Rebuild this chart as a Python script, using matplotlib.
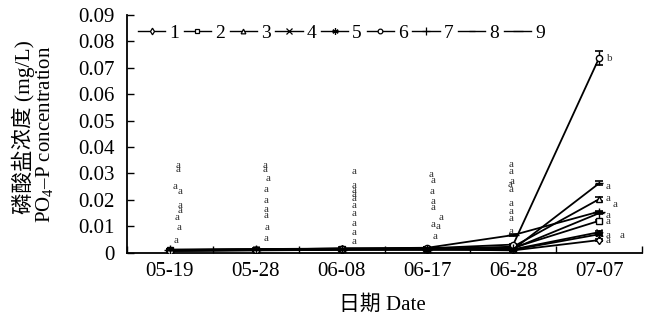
import matplotlib
matplotlib.use("Agg")
import matplotlib.pyplot as plt
from matplotlib.lines import Line2D

plt.rcParams["font.family"] = ["Liberation Serif", "Noto Sans CJK SC"]
plt.rcParams["mathtext.fontset"] = "custom"
plt.rcParams["mathtext.rm"] = "Liberation Serif"
plt.rcParams["mathtext.it"] = "Liberation Serif:italic"

# Sampling dates
dates = ["05-19", "05-28", "06-08", "06-17", "06-28", "07-07"]
series_names = ["1", "2", "3", "4", "5", "6", "7", "8", "9"]

# PO4-P concentration (mg/L) for each treatment
s1 = [0.0007, 0.0009, 0.0011, 0.0012, 0.0008, 0.0047]
s2 = [0.0009, 0.0011, 0.0013, 0.0014, 0.0018, 0.0120]
s3 = [0.0008, 0.0010, 0.0016, 0.0013, 0.0022, 0.0202]
s4 = [0.0010, 0.0012, 0.0012, 0.0015, 0.0012, 0.0077]
s5 = [0.0006, 0.0008, 0.0010, 0.0011, 0.0010, 0.0069]
s6 = [0.0007, 0.0010, 0.0014, 0.0016, 0.0030, 0.0737]
s7 = [0.0008, 0.0009, 0.0011, 0.0010, 0.0015, 0.0149]
s8 = [0.0009, 0.0012, 0.0013, 0.0017, 0.0012, 0.0262]
s9 = [0.0011, 0.0013, 0.0015, 0.0018, 0.0066, 0.0155]

# Standard errors
e1 = [0.0003, 0.0003, 0.0003, 0.0003, 0.0003, 0.0004]
e2 = [0.0003, 0.0003, 0.0003, 0.0003, 0.0003, 0.0005]
e3 = [0.0003, 0.0003, 0.0003, 0.0003, 0.0003, 0.0007]
e4 = [0.0003, 0.0003, 0.0003, 0.0003, 0.0003, 0.0004]
e5 = [0.0003, 0.0003, 0.0003, 0.0003, 0.0003, 0.0004]
e6 = [0.0003, 0.0003, 0.0003, 0.0003, 0.0004, 0.0028]
e7 = [0.0003, 0.0003, 0.0003, 0.0003, 0.0003, 0.0004]
e8 = [0.0003, 0.0003, 0.0003, 0.0003, 0.0003, 0.0008]
e9 = [0.0003, 0.0003, 0.0003, 0.0003, 0.0004, 0.0004]

values = [s1, s2, s3, s4, s5, s6, s7, s8, s9]
errors = [e1, e2, e3, e4, e5, e6, e7, e8, e9]

# Significance letters per date: (letter, height, horizontal offset)
letters_0519 = [("a", 0.0329, 0.09), ("a", 0.0313, 0.09), ("a", 0.0249, 0.06),
                ("a", 0.0233, 0.12), ("a", 0.0177, 0.12), ("a", 0.0161, 0.12),
                ("a", 0.0133, 0.08), ("a", 0.0094, 0.11), ("a", 0.0047, 0.07)]
letters_0528 = [("a", 0.0329, 0.11), ("a", 0.0313, 0.11), ("a", 0.0281, 0.14),
                ("a", 0.0237, 0.12), ("a", 0.0196, 0.12), ("a", 0.0164, 0.12),
                ("a", 0.0142, 0.12), ("a", 0.0094, 0.13), ("a", 0.0054, 0.12)]
letters_0608 = [("a", 0.0306, 0.14), ("a", 0.0253, 0.15), ("a", 0.0235, 0.15),
                ("a", 0.0218, 0.15), ("a", 0.0203, 0.15), ("a", 0.0180, 0.15),
                ("a", 0.0149, 0.15), ("a", 0.0111, 0.15), ("a", 0.0077, 0.15),
                ("a", 0.0040, 0.15)]
letters_0617 = [("a", 0.0294, 0.04), ("a", 0.0271, 0.07), ("a", 0.0233, 0.05),
                ("a", 0.0195, 0.07), ("a", 0.0170, 0.07), ("a", 0.0132, 0.16),
                ("a", 0.0107, 0.07), ("a", 0.0098, 0.12), ("a", 0.0059, 0.09)]
letters_0628 = [("a", 0.0332, -0.02), ("a", 0.0306, -0.02), ("a", 0.0268, -0.01),
                ("a", 0.0256, -0.04), ("a", 0.0237, -0.02), ("a", 0.0186, -0.02),
                ("a", 0.0155, -0.02), ("a", 0.0130, -0.02), ("a", 0.0079, -0.02)]
letters_0707 = [("b", 0.0737, 0.13), ("a", 0.0249, 0.11), ("a", 0.0203, 0.11),
                ("a", 0.0183, 0.19), ("a", 0.0142, 0.11), ("a", 0.0117, 0.11),
                ("a", 0.0066, 0.11), ("a", 0.0047, 0.11), ("a", 0.0066, 0.27)]
letter_groups = [letters_0519, letters_0528, letters_0608,
                 letters_0617, letters_0628, letters_0707]

markers = ["d", "s", "^", "x", (6, 2, 0), "o", "+", "_", "_"]
msizes = [4.5, 4.5, 4.5, 5, 6, 4.5, 7, 6, 9]

fig = plt.figure(figsize=(6.5, 3.24), dpi=100)
ax = fig.add_axes([127 / 650, (324 - 252.5) / 324, (642 - 127) / 650, (252.5 - 15) / 324])

x = list(range(len(dates)))
handles = []
for name, vals, errs, mk, ms in zip(series_names, values, errors, markers, msizes):
    ax.errorbar(x, vals, yerr=errs, fmt="none", ecolor="black",
                elinewidth=1.0, capsize=3, capthick=1.2, zorder=3)
    ax.plot(x, vals, color="black", lw=1.3, marker=mk, ms=ms,
            mfc="white", mec="black", mew=1.0, zorder=4, label=name)
    handles.append(Line2D([], [], color="black", lw=1.0, marker=mk,
                          ms=ms * 0.75, mfc="white", mec="black", mew=0.9))

for xi, group in enumerate(letter_groups):
    for txt, yv, dx in group:
        ax.text(xi + dx, yv, txt, fontsize=8, color="#333333",
                ha="center", va="center", family="Liberation Serif")

ax.set_xlim(-0.5, 5.5)
ax.set_ylim(0, 0.09)
ax.set_xticks(x)
ax.set_xticklabels(dates, fontsize=15)
ax.set_xticks([i + 0.5 for i in range(-1, 6)], minor=True)
ax.tick_params(axis="x", which="major", length=0, pad=7)
ax.tick_params(axis="x", which="minor", direction="in", length=5, width=1)
yt = [i / 100 for i in range(10)]
ax.set_yticks(yt)
ax.set_yticklabels(["0"] + ["%.2f" % v for v in yt[1:]], fontsize=15)
ax.tick_params(axis="y", direction="in", length=5, width=1, pad=9)
for side in ("top", "right"):
    ax.spines[side].set_visible(False)
for side in ("left", "bottom"):
    ax.spines[side].set_linewidth(1.3)

fig.text(23 / 650, 1 - 127 / 324, "磷酸盐浓度 (mg/L)", rotation=90,
         ha="center", va="center", fontsize=15.5)
fig.text(45 / 650, 1 - 134 / 324, "PO$_4$–P concentration", rotation=90,
         ha="center", va="center", fontsize=15)
fig.text(382 / 650, 1 - 305 / 324, "日期 Date", ha="center", va="center", fontsize=15)

fig.legend(handles, series_names, loc="center left",
           bbox_to_anchor=(138 / 650, 1 - 33 / 324), ncol=9, frameon=False,
           fontsize=14, handlelength=1.4, handletextpad=0.2,
           columnspacing=0.25, borderpad=0, borderaxespad=0)

fig.savefig("out.png", dpi=100, facecolor="white")
